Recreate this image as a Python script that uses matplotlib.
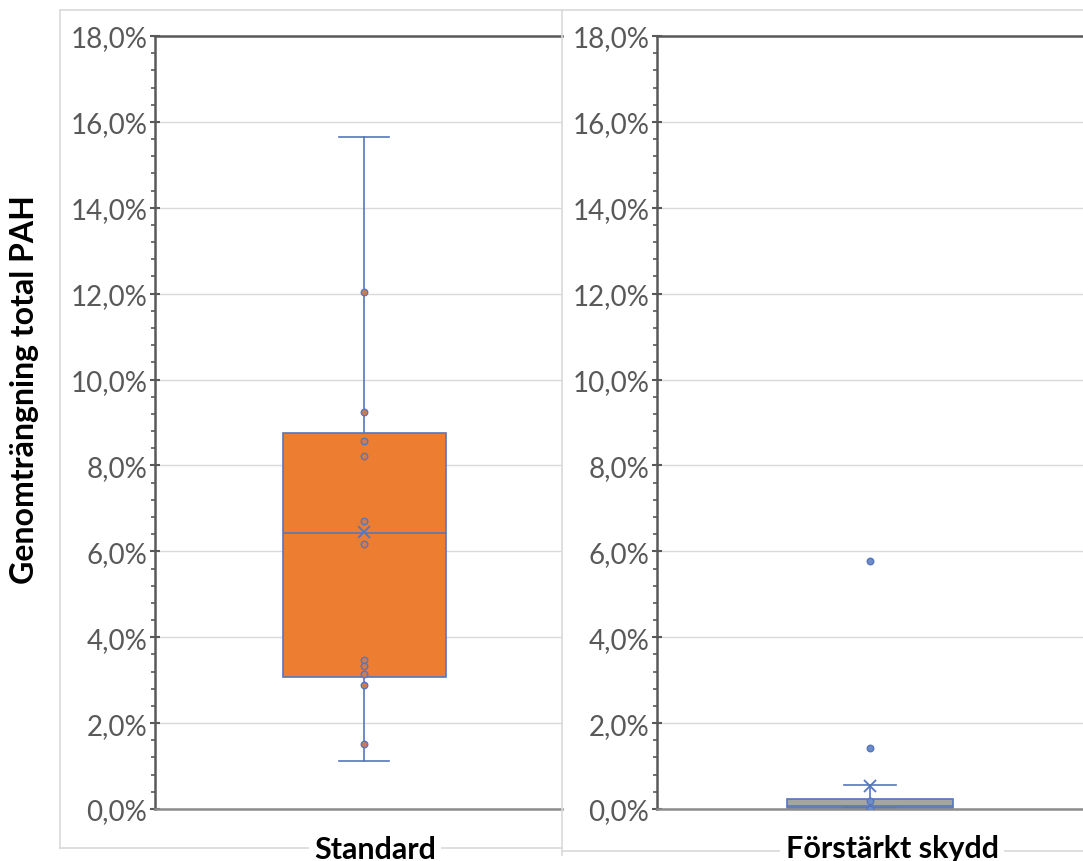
import matplotlib
matplotlib.use("Agg")
import matplotlib.pyplot as plt
from matplotlib.lines import Line2D
from matplotlib.ticker import MultipleLocator, FuncFormatter

# values in percent
categories = ["Standard", "Förstärkt skydd"]
std_stats = dict(whislo=1.12, q1=3.07, med=6.43, q3=8.75, whishi=15.65, mean=6.45)
std_points = [12.05, 9.25, 8.57, 8.22, 6.71, 6.17, 3.47, 3.33, 3.14, 2.89, 1.51]
fs_stats = dict(whislo=0.02, q1=0.02, med=0.06, q3=0.23, whishi=0.56, mean=0.53)
fs_points = [5.78, 1.42, 0.19, 0.0]

W, H = 1083, 862
plt.rcParams['font.family'] = ['Lato', 'DejaVu Sans']
fig = plt.figure(figsize=(W / 100, H / 100), dpi=100)

def fx(px):
    return px / W

def fy(py):
    return 1 - py / H

blue = '#5676BE'
grid = '#D9D9D9'
axcol = '#595959'

def style(ax, xmax):
    ax.set_ylim(0, 18)
    ax.set_xlim(0, xmax)
    ax.set_xticks([])
    ax.yaxis.set_major_locator(MultipleLocator(2))
    ax.yaxis.set_minor_locator(MultipleLocator(0.4))
    ax.yaxis.set_major_formatter(FuncFormatter(lambda v, p: f"{v:.1f}%".replace('.', ',')))
    ax.tick_params(axis='y', which='major', direction='inout', length=7, width=1.5,
                   color=axcol, labelsize=20, labelcolor=axcol, pad=2)
    ax.tick_params(axis='y', which='minor', direction='out', length=3, width=1.2, color=axcol)
    ax.grid(axis='y', color=grid, lw=1)
    ax.set_axisbelow(True)
    for s in ['top', 'left']:
        ax.spines[s].set_color(axcol)
        ax.spines[s].set_linewidth(1.8)
    ax.spines['bottom'].set_color('#8C8C8C')
    ax.spines['bottom'].set_linewidth(1.8)
    ax.spines['right'].set_visible(False)

def draw(ax, stats, points, face, pt_face, pos):
    st = dict(stats)
    st['fliers'] = []
    ax.bxp([st], positions=[pos], widths=0.78, patch_artist=True, showmeans=True,
           meanline=False, showfliers=False, manage_ticks=False,
           boxprops=dict(facecolor=face, edgecolor=blue, lw=1.2),
           medianprops=dict(color=blue, lw=1.2),
           whiskerprops=dict(color=blue, lw=1.2),
           capprops=dict(color=blue, lw=1.2),
           capwidths=0.24,
           meanprops=dict(marker='x', markeredgecolor=blue, markersize=9, markeredgewidth=1.3))
    ax.scatter([pos] * len(points), points, s=22, facecolor=pt_face,
               edgecolor=blue, lw=1.0, zorder=5)

ax1 = fig.add_axes([fx(155), fy(810), fx(407), fy(37) - fy(810)])
draw(ax1, std_stats, std_points, '#ED7D31', '#D27A4A', 1)
style(ax1, 1.947)

ax2 = fig.add_axes([fx(657), fy(810), fx(426), fy(37) - fy(810)])
draw(ax2, fs_stats, fs_points, '#A5A5A5', '#6F8CC4', 1)
style(ax2, 2.0)

fig.text(fx(25), fy(390), "Genomträngning total PAH", rotation=90, ha='center',
         va='center', fontsize=23, fontweight='bold', color='black')

# frames of the two chart areas
fc = '#D9D9D9'
for (x0, y0, x1, y1) in [(60, 11, 562, 11), (60, 11, 60, 849), (60, 849, 562, 849),
                         (562, 11, 1083, 11), (562, 11, 562, 856), (562, 852, 1083, 852)]:
    fig.add_artist(Line2D([fx(x0), fx(x1)], [fy(y0), fy(y1)], color=fc, lw=1.2,
                          transform=fig.transFigure))

bb = dict(facecolor='white', edgecolor='none', pad=4)
fig.text(fx(375), fy(850), categories[0], ha='center', va='center', fontsize=22,
         fontweight='bold', bbox=bb)
fig.text(fx(892), fy(849), categories[1], ha='center', va='center', fontsize=22,
         fontweight='bold', bbox=bb)

fig.savefig("out.png", dpi=100)
